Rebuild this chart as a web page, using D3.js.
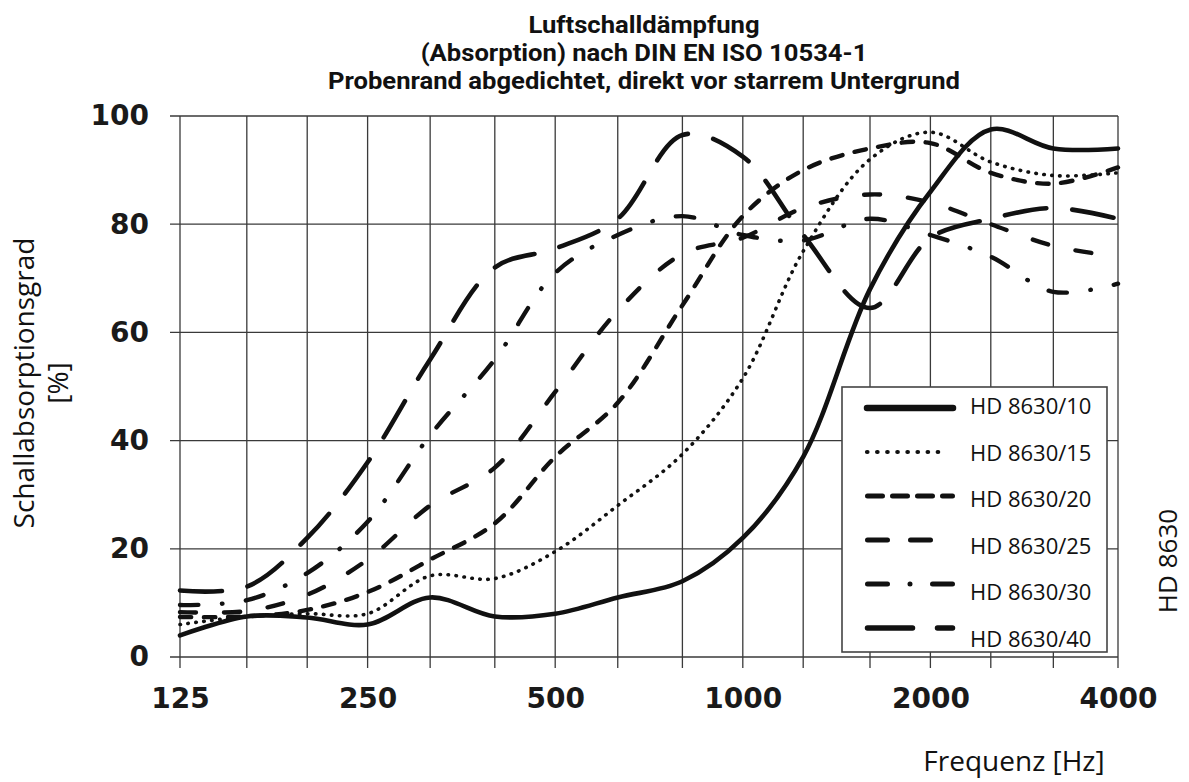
<!DOCTYPE html>
<html>
<head>
<meta charset="utf-8">
<script src="https://cdn.jsdelivr.net/npm/d3@7"></script>
<style>
  html, body { margin: 0; padding: 0; background: #ffffff; }
  svg { display: block; }
</style>
</head>
<body>
<svg id="chart" width="1189" height="782"></svg>
<script>
// ---------------- data ----------------
const freqs = [125, 160, 200, 250, 315, 400, 500, 630, 800, 1000, 1250, 1600, 2000, 2500, 3150, 4000];

const hd10 = [4, 7.5, 7.3, 6, 11, 7.5, 8, 11, 14, 22, 37, 68, 86, 97.5, 94, 94];
const hd15 = [6, 7.5, 8, 8, 15, 14.5, 19.5, 28, 37.5, 51.5, 75, 92, 97, 91.5, 89, 89.5];
const hd20 = [7.4, 7.5, 8.7, 12, 18, 24.7, 37, 47, 65, 81.5, 90, 94, 95, 89.5, 87.5, 90.5];
const hd25 = [8.3, 8.5, 11.5, 18, 28, 35, 49, 64, 74.5, 77.5, 83, 85.5, 84, 80, 76, 74];
const hd30 = [9.6, 10.5, 15.5, 25, 41, 55, 71, 78, 81.5, 78, 77, 81, 78, 74, 67.5, 69];
const hd40 = [12.3, 13, 22, 36, 55, 72, 75.5, 81, 96.5, 92.5, 78, 64.5, 77.5, 81, 83, 81];

const seriesNames = ["HD 8630/10", "HD 8630/15", "HD 8630/20", "HD 8630/25", "HD 8630/30", "HD 8630/40"];
const seriesValues = [hd10, hd15, hd20, hd25, hd30, hd40];

const xTickLabels = [125, 250, 500, 1000, 2000, 4000];
const yTickLabels = [0, 20, 40, 60, 80, 100];

const titleLines = [
  "Luftschalldämpfung",
  "(Absorption) nach DIN EN ISO 10534-1",
  "Probenrand abgedichtet, direkt vor starrem Untergrund"
];
const yTitleLines = ["Schallabsorptionsgrad", "[%]"];
const xTitle = "Frequenz [Hz]";
const sideLabel = "HD 8630";

// ---------------- styles ----------------
const plotStyles = [
  { width: 4.6, dash: null },
  { width: 3.6, dash: "0.5 7.5" },
  { width: 4.4, dash: "11.5 12.5" },
  { width: 4.4, dash: "16 28" },
  { width: 4.4, dash: "18.5 23.5 0.5 23.5" },
  { width: 4.6, dash: "42 26" }
];
const legendStyles = [
  { width: 6.5, dash: null, x1: 867, x2: 953 },
  { width: 4.2, dash: "0.5 9.6", x1: 867, x2: 945 },
  { width: 5, dash: "15 10", x1: 867.5, x2: 952.5 },
  { width: 5, dash: "20 23", x1: 867.5, x2: 930.5 },
  { width: 5, dash: "20 22.5 0.01 22.5 20", x1: 867.5, x2: 952.5 },
  { width: 5.5, dash: "45 25 15", x1: 867.5, x2: 952.5 }
];

const ink = "#111";
const gridColor = "#3a3a3a";

const svg = d3.select("#chart");

// ---------------- scales ----------------
const x = d3.scaleLog().domain([125, 4000]).range([180, 1118]);
const y = d3.scaleLinear().domain([0, 100]).range([657, 116]);

// ---------------- grid ----------------
const grid = svg.append("g");
grid.selectAll("line.v").data(freqs).enter().append("line")
  .attr("x1", d => x(d)).attr("x2", d => x(d))
  .attr("y1", y(100)).attr("y2", y(0) + 11)
  .attr("stroke", gridColor).attr("stroke-width", 1.3);
grid.selectAll("line.h").data(yTickLabels).enter().append("line")
  .attr("x1", x(125) - 10).attr("x2", x(4000))
  .attr("y1", d => y(d)).attr("y2", d => y(d))
  .attr("stroke", gridColor).attr("stroke-width", 1.3);

// ---------------- axes (labels) ----------------
const yAxis = svg.append("g")
  .attr("transform", `translate(${x(125)},0)`)
  .call(d3.axisLeft(y).tickValues(yTickLabels).tickSize(0).tickPadding(31));
const xAxis = svg.append("g")
  .attr("transform", `translate(0,${y(0)})`)
  .call(d3.axisBottom(x).tickValues(xTickLabels).tickSize(0).tickPadding(31).tickFormat(d3.format("d")));
[yAxis, xAxis].forEach(a => {
  a.select(".domain").remove();
  a.selectAll("text")
    .attr("font-family", "'DejaVu Sans', sans-serif")
    .attr("font-weight", "bold")
    .attr("font-size", 28)
    .attr("fill", "#1a1a1a");
});

// ---------------- curves ----------------
const line = d3.line()
  .x((d, i) => x(freqs[i]))
  .y(d => y(d))
  .curve(d3.curveCatmullRom.alpha(0.5));

svg.append("g").selectAll("path").data(seriesValues).enter().append("path")
  .attr("d", d => line(d))
  .attr("fill", "none")
  .attr("stroke", ink)
  .attr("stroke-width", (d, i) => plotStyles[i].width)
  .attr("stroke-dasharray", (d, i) => plotStyles[i].dash)
  .attr("stroke-linecap", "round")
  .attr("stroke-linejoin", "round");

// ---------------- legend ----------------
const legend = svg.append("g");
legend.append("rect")
  .attr("x", 842).attr("y", 387).attr("width", 265).attr("height", 265)
  .attr("fill", "#fff").attr("stroke", "#444").attr("stroke-width", 1.6);
const legRows = legend.selectAll("g.row").data(seriesNames).enter().append("g");
legRows.append("line")
  .attr("x1", (d, i) => legendStyles[i].x1).attr("x2", (d, i) => legendStyles[i].x2)
  .attr("y1", (d, i) => 408 + i * 44).attr("y2", (d, i) => 408 + i * 44)
  .attr("stroke", ink)
  .attr("stroke-width", (d, i) => legendStyles[i].width)
  .attr("stroke-dasharray", (d, i) => legendStyles[i].dash)
  .attr("stroke-linecap", "round");
legRows.append("text")
  .attr("x", 970)
  .attr("y", (d, i) => 414 + i * 46.6)
  .attr("font-family", "'Open Sans', sans-serif")
  .attr("font-size", 22)
  .attr("fill", "#111")
  .text(d => d);

// ---------------- titles ----------------
const titleG = svg.append("g");
const tTexts = titleG.selectAll("text").data(titleLines).enter().append("text")
  .attr("x", 644)
  .attr("y", (d, i) => 33 + i * 28.2)
  .attr("text-anchor", "middle")
  .attr("font-family", "Roboto, sans-serif")
  .attr("font-weight", 700)
  .attr("font-size", 23)
  .attr("fill", "#111")
  .text(d => d);
const nodes = tTexts.nodes();
const w3 = nodes[2].getComputedTextLength();
const k = 632 / w3;
nodes.forEach(n => {
  const w = n.getComputedTextLength();
  d3.select(n).attr("textLength", w * k).attr("lengthAdjust", "spacingAndGlyphs");
});

svg.append("g")
  .attr("transform", "translate(24,383) rotate(-90)")
  .selectAll("text").data(yTitleLines).enter().append("text")
  .attr("x", 0)
  .attr("y", (d, i) => i * 34)
  .attr("dy", "0.35em")
  .attr("text-anchor", "middle")
  .attr("font-family", "'Open Sans', sans-serif")
  .attr("font-size", 28)
  .attr("fill", "#111")
  .text(d => d);

svg.append("text")
  .attr("x", 1014).attr("y", 771)
  .attr("text-anchor", "middle")
  .attr("font-family", "'Open Sans', sans-serif")
  .attr("font-size", 28)
  .attr("fill", "#111")
  .text(xTitle);

svg.append("text")
  .attr("transform", "translate(1168,561) rotate(-90)")
  .attr("dy", "0.35em")
  .attr("text-anchor", "middle")
  .attr("font-family", "'Open Sans', sans-serif")
  .attr("font-size", 26)
  .attr("fill", "#111")
  .text(sideLabel);
</script>
</body>
</html>
